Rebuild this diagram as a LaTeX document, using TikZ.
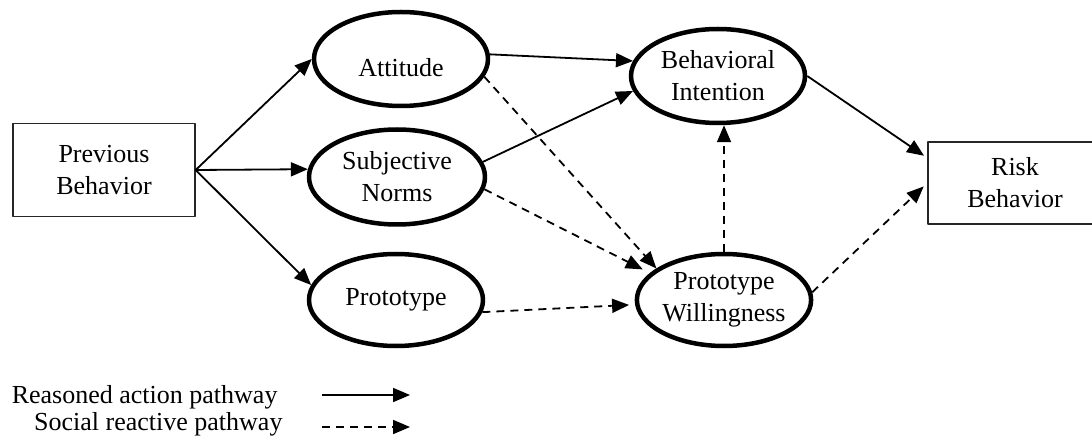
\documentclass[tikz,border=0pt]{standalone}
\usepackage{fontspec}
\setmainfont{Liberation Serif}
\usetikzlibrary{shapes.geometric,arrows.meta}
\begin{document}
\begin{tikzpicture}[x=1pt,y=-1pt, font=\fontsize{26}{32}\selectfont, line join=round, >={Triangle[length=17pt,width=14pt]},
  oval/.style={draw, ellipse, line width=4.5pt, inner sep=0pt, minimum width=174pt, minimum height=94pt, align=center},
  box/.style={draw=black!85, line width=1.3pt, inner sep=0pt, align=center},
  reason/.style={->, line width=1.8pt},
  social/.style={->, line width=1.8pt, dash pattern=on 8pt off 6pt}]
\clip (0,0) rectangle (1092,446);
% boxes and ovals
\node[box, minimum width=182pt, minimum height=93pt] (pb) at (104,170) {Previous\\Behavior};
\node[oval, label={[name=attlbl, yshift=-9pt]center:Attitude}] (att) at (401,59) {};
\node[oval, minimum width=176pt, minimum height=95pt] (sn) at (397,177) {Subjective\\Norms};
\node[oval, minimum height=92pt] (proto) at (396,300) {Prototype};
\node[oval] (bi) at (718,76) {Behavioral\\Intention};
\node[oval, minimum height=92pt] (pw) at (724,300) {Prototype\\Willingness};
\node[box, minimum width=174pt, minimum height=82pt] (rb) at (1015,183) {Risk\\Behavior};
% reasoned action
\draw[reason] (pb.east) -- (att.west);
\draw[reason] (pb.east) -- (sn.175);
\draw[reason] (pb.east) -- (proto.170);
\draw[reason] (att.3) -- (bi.170);
\draw[reason] (sn.10) -- (bi.190);
\draw[reason, shorten >=4pt] (bi.east) -- ([yshift=25pt]rb.west);
% social reaction
\draw[social] (att.-12) -- (pw.155);
\draw[social, shorten >=8pt] (sn.-8) -- (pw.160);
\draw[social, shorten >=6pt] (proto.-8) -- (pw.183);
\draw[social] (pw.north) -- (pw.north |- bi.south);
\draw[social, shorten >=5pt] (pw.5) -- (rb.west);
% legend
\node[anchor=east] (lgr) at (281,397) {Reasoned action pathway};
\node[anchor=east] (lgs) at (286,424) {Social reactive pathway};
\coordinate (r1) at (322,395); \coordinate (r2) at (410,395);
\coordinate (s1) at (322,427); \coordinate (s2) at (410,427);
\draw[reason] (r1) -- (r2);
\draw[social] (s1) -- (s2);
\end{tikzpicture}
\end{document}
